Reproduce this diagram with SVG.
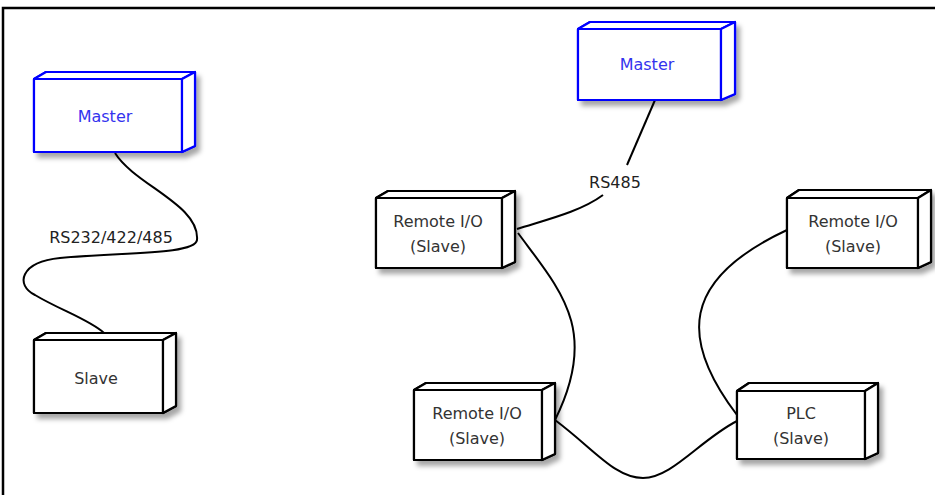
<svg xmlns="http://www.w3.org/2000/svg" width="935" height="495" viewBox="0 0 935 495">
<defs>
<filter id="sh" x="-20%" y="-20%" width="150%" height="150%">
<feDropShadow dx="4" dy="5" stdDeviation="2.5" flood-color="#000" flood-opacity="0.35"/>
</filter>
</defs>
<style>
.box{fill:#fff;stroke:#000;stroke-width:2.2;stroke-linejoin:round}
.blue .box{stroke:#0000ff}
text{font-family:"DejaVu Sans","Liberation Sans",sans-serif;font-size:16px;fill:#333;text-anchor:middle;dominant-baseline:central}
.blue text{fill:#3333ee}
.conn{fill:none;stroke:#000;stroke-width:2}
.lbl{fill:#222}
</style>
<rect x="0" y="0" width="935" height="495" fill="#fff"/>
<path d="M3,495 V8 H935" fill="none" stroke="#000" stroke-width="2.5"/>

<g id="connectors">
<path class="conn" d="M115,153 C135,185 200,205 197,240 C195,255 120,252 60,258 C20,262 15,285 35,295 C60,310 90,320 104,333"/>
<path class="conn" d="M655,100 L627,165"/>
<path class="conn" d="M603,195 C580,212 545,220 517,229"/>
<path class="conn" d="M518,233 C560,290 600,330 555,420"/>
<path class="conn" d="M555,420 C595,450 615,478 643,478 C672,478 700,440 737,421"/>
<path class="conn" d="M737,415 C680,340 680,280 787,230"/>
<text class="lbl" x="111" y="237">RS232/422/485</text>
<text class="lbl" x="615" y="182">RS485</text>
</g>

<g id="master-left" class="blue">
<g filter="url(#sh)">
<path class="box" d="M34,79 L46,72 L195,72 L195,146 L182,152 L34,152 Z"/>
</g>
<rect class="box" x="34" y="79" width="148" height="73"/>
<path class="box" d="M34,79 L46,72 L195,72 L182,79 Z"/>
<path class="box" d="M182,79 L195,72 L195,146 L182,152 Z"/>
<text x="105" y="116">Master</text>
</g>

<g id="slave-left">
<g filter="url(#sh)">
<path class="box" d="M34,340 L46,333 L176,333 L176,406 L163,413 L34,413 Z"/>
</g>
<rect class="box" x="34" y="340" width="129" height="73"/>
<path class="box" d="M34,340 L46,333 L176,333 L163,340 Z"/>
<path class="box" d="M163,340 L176,333 L176,406 L163,413 Z"/>
<text x="96" y="378">Slave</text>
</g>

<g id="master-right" class="blue">
<g filter="url(#sh)">
<path class="box" d="M578,29 L590,22 L735,22 L735,94 L721,100 L578,100 Z"/>
</g>
<rect class="box" x="578" y="29" width="143" height="71"/>
<path class="box" d="M578,29 L590,22 L735,22 L721,29 Z"/>
<path class="box" d="M721,29 L735,22 L735,94 L721,100 Z"/>
<text x="647" y="64">Master</text>
</g>

<g id="remote-io-1">
<g filter="url(#sh)">
<path class="box" d="M376,198 L388,191 L515,191 L515,262 L502,268 L376,268 Z"/>
</g>
<rect class="box" x="376" y="198" width="126" height="70"/>
<path class="box" d="M376,198 L388,191 L515,191 L502,198 Z"/>
<path class="box" d="M502,198 L515,191 L515,262 L502,268 Z"/>
<text x="438" y="221">Remote I/O</text>
<text x="438" y="246">(Slave)</text>
</g>

<g id="remote-io-2">
<g filter="url(#sh)">
<path class="box" d="M787,198 L799,190 L931,190 L931,262 L918,268 L787,268 Z"/>
</g>
<rect class="box" x="787" y="198" width="131" height="70"/>
<path class="box" d="M787,198 L799,190 L931,190 L918,198 Z"/>
<path class="box" d="M918,198 L931,190 L931,262 L918,268 Z"/>
<text x="853" y="221">Remote I/O</text>
<text x="853" y="246">(Slave)</text>
</g>

<g id="remote-io-3">
<g filter="url(#sh)">
<path class="box" d="M414,390 L426,383 L555,383 L555,454 L542,460 L414,460 Z"/>
</g>
<rect class="box" x="414" y="390" width="128" height="70"/>
<path class="box" d="M414,390 L426,383 L555,383 L542,390 Z"/>
<path class="box" d="M542,390 L555,383 L555,454 L542,460 Z"/>
<text x="477" y="413">Remote I/O</text>
<text x="477" y="438">(Slave)</text>
</g>

<g id="plc">
<g filter="url(#sh)">
<path class="box" d="M737,391 L749,383 L878,383 L878,453 L865,459 L737,459 Z"/>
</g>
<rect class="box" x="737" y="391" width="128" height="68"/>
<path class="box" d="M737,391 L749,383 L878,383 L865,391 Z"/>
<path class="box" d="M865,391 L878,383 L878,453 L865,459 Z"/>
<text x="801" y="413">PLC</text>
<text x="801" y="438">(Slave)</text>
</g>
</svg>
